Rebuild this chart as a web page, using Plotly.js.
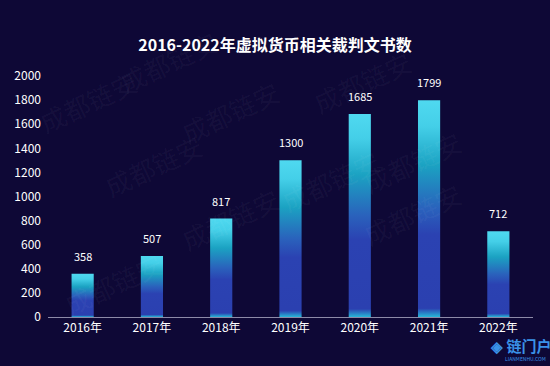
<!DOCTYPE html>
<html>
<head>
<meta charset="utf-8">
<script src="https://cdn.plot.ly/plotly-3.0.1.min.js"></script>
<style>
html,body{margin:0;padding:0;background:#0e0836;}
#chart{width:550px;height:366px;}
</style>
</head>
<body>
<div id="chart"></div>
<script>
const categories = ["2016年","2017年","2018年","2019年","2020年","2021年","2022年"];
const values = [358, 507, 817, 1300, 1685, 1799, 712];
const yTicks = [0,200,400,600,800,1000,1200,1400,1600,1800,2000];

const font = '"Noto Sans CJK SC", "Noto Sans", sans-serif';

const trace = {
  type: 'bar',
  x: categories,
  y: values,
  marker: {color: '#2a40b0', line: {width: 0}},
  width: 0.32,
  hoverinfo: 'x+y'
};

const labels = categories.map((c,i)=>({
  x: c, y: values[i], xref:'x', yref:'y', text: String(values[i]),
  showarrow:false, yanchor:'bottom', yshift: 8,
  font:{color:'#ffffff', size:11, family:font}
}));

const wm = [];
const wmPos = [[55,325],[230,260],[470,255],[95,165],[330,180],[470,120],[230,70],[30,60],[420,40],[110,20]];
wmPos.forEach(p => wm.push({
  xref:'paper', yref:'paper', x:(p[0]-48)/485, y:(317-p[1])/241,
  text:'成都链安', showarrow:false, textangle:-25,
  font:{size:26, color:'rgba(255,255,255,0.045)', family:font}
}));

const layout = {
  width: 550, height: 366,
  paper_bgcolor: '#0e0836',
  plot_bgcolor: '#0e0836',
  margin: {l: 48, r: 17, t: 76, b: 49},
  title: {text: '<b>2016-2022年虚拟货币相关裁判文书数</b>', x: 0.5, xanchor: 'center', y: 0.877, yanchor:'middle',
          font: {color: '#ffffff', size: 16, family: font}},
  showlegend: false,
  xaxis: {
    type: 'category',
    showline: true, linecolor: '#8d8aa8', linewidth: 1,
    showgrid: false, zeroline: false,
    ticks: '',
    tickfont: {color: '#ffffff', size: 12, family: font},
    fixedrange: true
  },
  yaxis: {
    range: [0, 2000],
    tickvals: yTicks,
    showgrid: false, zeroline: false, showline: false,
    ticks: '',
    tickfont: {color: '#ffffff', size: 12, family: font},
    ticklabelstandoff: 6,
    fixedrange: true
  },
  annotations: wm.concat(labels).concat([
    {xref:'paper', yref:'paper', x:(520-48)/485, y:(317-345)/241, xanchor:'center', yanchor:'middle',
     text:'<b>◈ 链门户</b>', showarrow:false, font:{size:15, color:'#3a92e8', family:font}},
    {xref:'paper', yref:'paper', x:(525-48)/485, y:(317-358)/241, xanchor:'center', yanchor:'middle',
     text:'LIANMENHU.COM', showarrow:false, font:{size:5, color:'#3a92e8', family:font}}
  ])
};

function applyGradient(gd){
  const svg = gd.querySelector('svg.main-svg');
  if(!svg) return;
  let defs = svg.querySelector('defs');
  if(!document.getElementById('barGrad')){
    const ns = 'http://www.w3.org/2000/svg';
    const lg = document.createElementNS(ns, 'linearGradient');
    lg.setAttribute('id','barGrad');
    lg.setAttribute('x1','0'); lg.setAttribute('y1','0');
    lg.setAttribute('x2','0'); lg.setAttribute('y2','1');
    const stops = [[0,'#4fd9f0'],[0.12,'#44cfe8'],[0.3,'#1ba2c2'],[0.5,'#2a62bc'],[0.62,'#2b42b2'],[0.96,'#2b40b0'],[1,'#27b8d8']];
    stops.forEach(s=>{
      const st = document.createElementNS(ns,'stop');
      st.setAttribute('offset', s[0]);
      st.setAttribute('stop-color', s[1]);
      lg.appendChild(st);
    });
    defs.appendChild(lg);
  }
  gd.querySelectorAll('.bars .point path').forEach(p=>{
    p.style.fill = 'url(#barGrad)';
  });
}

Plotly.newPlot('chart', [trace], layout, {displayModeBar: false, staticPlot: true}).then(gd=>{
  applyGradient(gd);
  gd.on('plotly_afterplot', ()=>applyGradient(gd));
});
</script>
</body>
</html>
